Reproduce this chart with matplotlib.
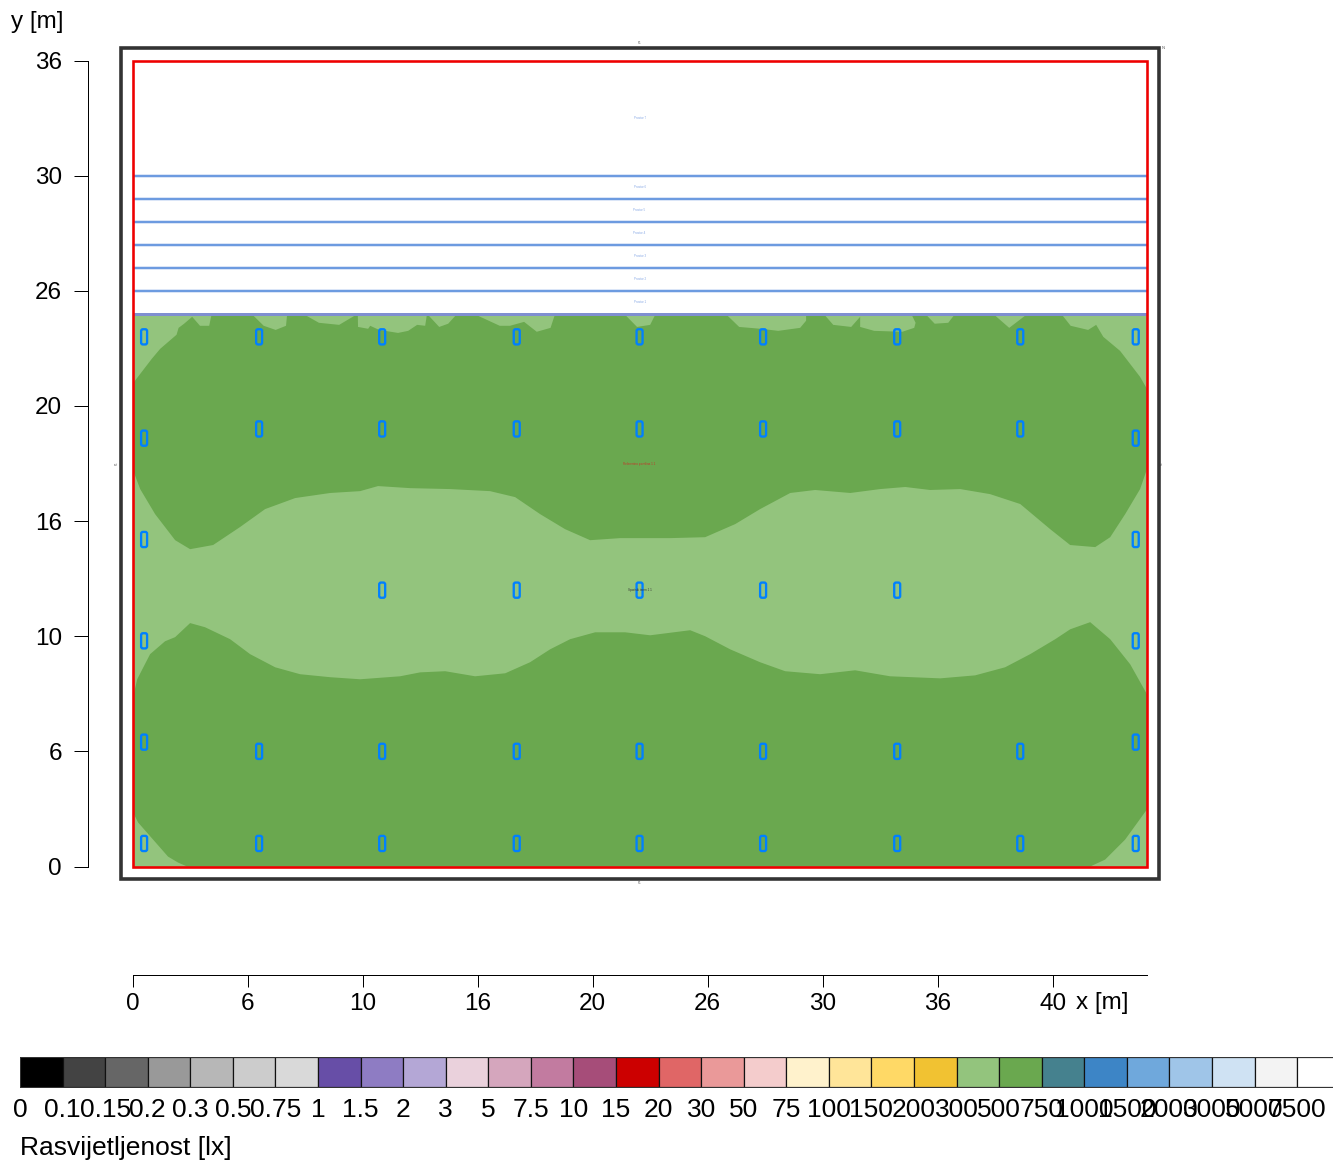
"""Illuminance plan of a sports hall with a stepped lux legend."""

import matplotlib

matplotlib.use("Agg")
import matplotlib.pyplot as plt
from matplotlib.patches import FancyBboxPatch, Rectangle

plt.rcParams["font.family"] = ["Liberation Sans", "DejaVu Sans"]

# figure size in pixels
W, H = 1333, 1162
PT = 72 / 100  # points per pixel

ROOM_W = 44.1
ROOM_H = 35.0
FIELD_H = 24.0

x_ticks = [0, 5, 10, 15, 20, 25, 30, 35, 40]
x_tick_labels = ["0", "6", "10", "16", "20", "26", "30", "36", "40"]
y_ticks = [0, 5, 10, 15, 20, 25, 30, 35]
y_tick_labels = ["0", "6", "10", "16", "20", "26", "30", "36"]

# 500 lx isoline, upper and lower area (metres)
upper_x = [0, 0.83, 1.20, 1.91, 2.00, 2.24, 2.59, 2.93, 3.33, 3.44, 5.17, 5.70, 6.22, 6.67, 6.72,
           7.41, 8.10, 8.98, 9.79, 9.80, 10.24, 10.33, 10.72, 11.54, 11.98, 12.37, 12.72, 12.80,
           13.33, 13.72, 14.11, 14.83, 15.96, 16.41, 17.02, 17.57, 18.17, 18.37, 21.37, 21.93,
           22.50, 22.74, 25.78, 26.37, 27.30, 28.07, 29.02, 29.28, 29.28, 30.04, 30.46, 31.24,
           31.63, 31.63, 32.24, 33.46, 33.98, 34.04, 33.85, 34.46, 34.87, 35.46, 35.76, 37.41,
           38.11, 38.91, 40.37, 40.78, 41.54, 41.89, 42.20, 42.93, 43.20, 43.80, 44.10, 44.10,
           43.80, 43.15, 42.50, 41.85, 40.76, 39.89, 38.59, 37.28, 35.98, 34.67, 33.59, 32.50,
           31.20, 29.67, 28.59, 27.28, 26.20, 24.89, 23.37, 21.20, 19.89, 18.80, 17.72, 16.63,
           15.54, 13.80, 12.07, 10.67, 9.89, 8.59, 7.07, 5.76, 4.67, 3.50, 2.50, 1.85, 0.98,
           0.33, 0]
upper_y = [20.96, 22.04, 22.48, 23.09, 23.39, 23.57, 23.87, 23.48, 23.48, 24, 24, 23.48, 23.30,
           23.48, 24, 24, 23.61, 23.52, 24, 23.43, 23.35, 23.48, 23.30, 23.17, 23.26, 23.52, 23.48,
           24, 23.43, 23.57, 24, 24, 23.48, 23.48, 23.65, 23.22, 23.39, 24, 24, 23.43, 23.52, 24,
           24, 23.43, 23.35, 23.26, 23.39, 23.70, 24, 24, 23.52, 23.43, 23.87, 23.43, 23.26,
           23.22, 23.39, 23.61, 24, 24, 23.57, 23.61, 24, 24, 23.39, 24, 24, 23.48, 23.30, 23.52,
           23.0, 22.39, 22.04, 21.26, 20.74, 17.26, 16.39, 15.30, 14.30, 13.87, 13.96, 14.65,
           15.74, 16.17, 16.39, 16.35, 16.48, 16.39, 16.22, 16.35, 16.22, 15.52, 14.87, 14.30,
           14.26, 14.26, 14.17, 14.65, 15.30, 16.04, 16.30, 16.39, 16.43, 16.52, 16.30, 16.22,
           16.0, 15.52, 14.74, 13.96, 13.78, 14.17, 15.30, 16.39, 17.26]

lower_x = [0, 0.20, 0.76, 1.41, 1.85, 2.50, 3.15, 4.24, 5.11, 6.20, 7.28, 8.59, 9.89, 11.63, 12.50,
           13.59, 14.89, 16.20, 17.28, 18.15, 19.02, 20.11, 21.41, 22.50, 24.24, 24.89, 25.98,
           27.28, 28.37, 29.89, 31.41, 32.93, 35.11, 36.63, 37.93, 39.02, 40.11, 40.76, 41.63,
           42.50, 43.37, 44.10, 44.10, 43.15, 42.28, 41.63, 2.37, 1.98, 1.54, 0.89, 0.24, 0]
lower_y = [7.26, 8.13, 9.22, 9.78, 9.96, 10.57, 10.39, 9.87, 9.22, 8.65, 8.35, 8.22, 8.13, 8.26,
           8.43, 8.48, 8.26, 8.39, 8.87, 9.43, 9.87, 10.17, 10.17, 10.04, 10.26, 10.0, 9.43, 8.87,
           8.48, 8.35, 8.52, 8.26, 8.17, 8.30, 8.65, 9.22, 9.87, 10.30, 10.61, 9.87, 8.78, 7.48,
           2.48, 1.17, 0.30, 0, 0, 0.17, 0.43, 1.17, 1.91, 2.39]

# luminaires (metres)
lum_x = [0.5, 5.5, 10.85, 16.7, 22.04, 27.41, 33.24, 38.59, 43.61]
lum_inner_x = lum_x[1:-1]
lum_middle_x = lum_x[2:-2]
lum_edge_x = [lum_x[0], lum_x[-1]]
lum_rows = [
    (lum_x, 23.0),
    (lum_inner_x, 19.0),
    (lum_edge_x, 18.6),
    (lum_edge_x, 14.2),
    (lum_middle_x, 12.0),
    (lum_edge_x, 9.8),
    (lum_edge_x, 5.4),
    (lum_inner_x, 5.0),
    (lum_x, 1.0),
]

# rooms above the field
room_lines = [30, 29, 28, 27, 26, 25]
room_names = ["Prostor 7", "Prostor 6", "Prostor 5", "Prostor 4", "Prostor 3", "Prostor 2", "Prostor 1"]
room_name_y = [32.5, 29.5, 28.5, 27.5, 26.5, 25.5, 24.5]

legend_labels = ["0", "0.1", "0.15", "0.2", "0.3", "0.5", "0.75", "1", "1.5", "2", "3", "5", "7.5",
                 "10", "15", "20", "30", "50", "75", "100", "150", "200", "300", "500", "750",
                 "1000", "1500", "2000", "3000", "5000", "7500"]
legend_colors = ["#000000", "#434343", "#666666", "#999999", "#b7b7b7", "#cccccc", "#d9d9d9",
                 "#674ea7", "#8e7cc3", "#b4a7d6", "#ead1dc", "#d5a6bd", "#c27ba0", "#a64d79",
                 "#cc0000", "#e06666", "#ea9999", "#f4cccc", "#fff2cc", "#ffe599", "#ffd966",
                 "#f1c232", "#93c47d", "#6aa84f", "#45818e", "#3d85c6", "#6fa8dc", "#9fc5e8",
                 "#cfe2f3", "#f3f3f3", "#ffffff"]

LIGHT = "#93c47d"
DARK = "#6aa84f"
FONT = 17.5
LEGEND_FONT = 19


def axes_px(fig, left, top, right, bottom):
    return fig.add_axes([left / W, 1 - bottom / H, (right - left) / W, (bottom - top) / H])


fig = plt.figure(figsize=(W / 100, H / 100), dpi=100)

ax = axes_px(fig, 132.6, 60.5, 1147, 866.5)
ax.set_xlim(0, ROOM_W)
ax.set_ylim(0, ROOM_H)

ax.add_patch(Rectangle((0, 0), ROOM_W, FIELD_H, facecolor=LIGHT, edgecolor="none", zorder=1))
ax.fill(upper_x, upper_y, color=DARK, lw=0, zorder=2)
ax.fill(lower_x, lower_y, color=DARK, lw=0, zorder=2)

for y in room_lines:
    ax.plot([0, ROOM_W], [y, y], color="#6d9be0", lw=2.5 * PT, zorder=3)
ax.plot([0, ROOM_W], [FIELD_H, FIELD_H], color="#7f8fd0", lw=3 * PT, zorder=3)
for name, y in zip(room_names, room_name_y):
    ax.text(22.04, y, name, color="#8aaae6", fontsize=2.2, ha="center", va="center", zorder=4)

for xs, y in lum_rows:
    for x in xs:
        ax.add_patch(FancyBboxPatch((x - 0.1, y - 0.3), 0.2, 0.6, boxstyle="round,pad=0.03,rounding_size=0.08",
                                    facecolor="none", edgecolor="#0080ff", lw=2.3 * PT, zorder=5))

ax.text(22.04, 17.5, "Referentna površina 1 1", color="#c0392b", fontsize=2.2, ha="center", va="center", zorder=6)
ax.text(22.04, 12.0, "Sportski teren 1 1", color="#333333", fontsize=2.2, ha="center", va="center", zorder=6)

# room outline and hall outline
ax.add_patch(Rectangle((0, 0), ROOM_W, ROOM_H, facecolor="none", edgecolor="#ee0000", lw=2.6 * PT,
                       clip_on=False, zorder=7))
ax.add_patch(Rectangle((-0.5, -0.56), ROOM_W + 1.0, ROOM_H + 1.12, facecolor="none", edgecolor="#333333",
                       lw=3.6 * PT, clip_on=False, zorder=7))

# tiny dimension labels round the hall
ax.text(22.04, 35.75, "P1", color="#555555", fontsize=2.2, ha="center", va="center", clip_on=False)
ax.text(22.04, -0.72, "P1", color="#555555", fontsize=2.2, ha="center", va="center", clip_on=False)
ax.text(-0.68, 17.5, "P1", color="#555555", fontsize=2.2, ha="center", va="center", rotation=90, clip_on=False)
ax.text(44.75, 17.5, "P1", color="#555555", fontsize=2.2, ha="center", va="center", rotation=90, clip_on=False)
ax.text(44.8, 35.55, "N", color="#555555", fontsize=3, ha="center", va="center", clip_on=False)

# detached axes
for side in ["top", "right"]:
    ax.spines[side].set_visible(False)
ax.spines["left"].set_position(("outward", 45 * PT))
ax.spines["bottom"].set_position(("outward", 108.5 * PT))
ax.spines["left"].set_linewidth(1 * PT)
ax.spines["bottom"].set_linewidth(1 * PT)
ax.set_xticks(x_ticks, x_tick_labels)
ax.set_yticks(y_ticks, y_tick_labels)
ax.tick_params(axis="x", length=12 * PT, width=1 * PT, pad=5.5 * PT, labelsize=FONT)
ax.tick_params(axis="y", length=14 * PT, width=1 * PT, pad=11.5 * PT, labelsize=FONT)
ax.patch.set_alpha(0)

fig.text(11 / W, 1 - 22 / H, "y [m]", fontsize=FONT, ha="left", va="center")
fig.text(1076 / W, 1 - 1003 / H, "x [m]", fontsize=FONT, ha="left", va="center")

# stepped legend, runs off the right edge like the original
leg = axes_px(fig, 20, 1057, 20 + 31 * 42.57, 1087)
positions = list(range(len(legend_colors)))
leg.bar(positions, [1] * len(positions), width=1, align="edge", color=legend_colors, edgecolor="#111111", lw=1.2 * PT)
leg.set_xlim(0, len(positions))
leg.set_ylim(0, 1)
leg.set_yticks([])
leg.set_xticks(positions, legend_labels)
leg.tick_params(axis="x", length=0, pad=11 * PT, labelsize=LEGEND_FONT)
for spine in leg.spines.values():
    spine.set_linewidth(1 * PT)
    spine.set_color("#333333")

fig.text(20 / W, 1 - 1148 / H, "Rasvijetljenost [lx]", fontsize=LEGEND_FONT, ha="left", va="center")

fig.savefig("out.png", dpi=100)
